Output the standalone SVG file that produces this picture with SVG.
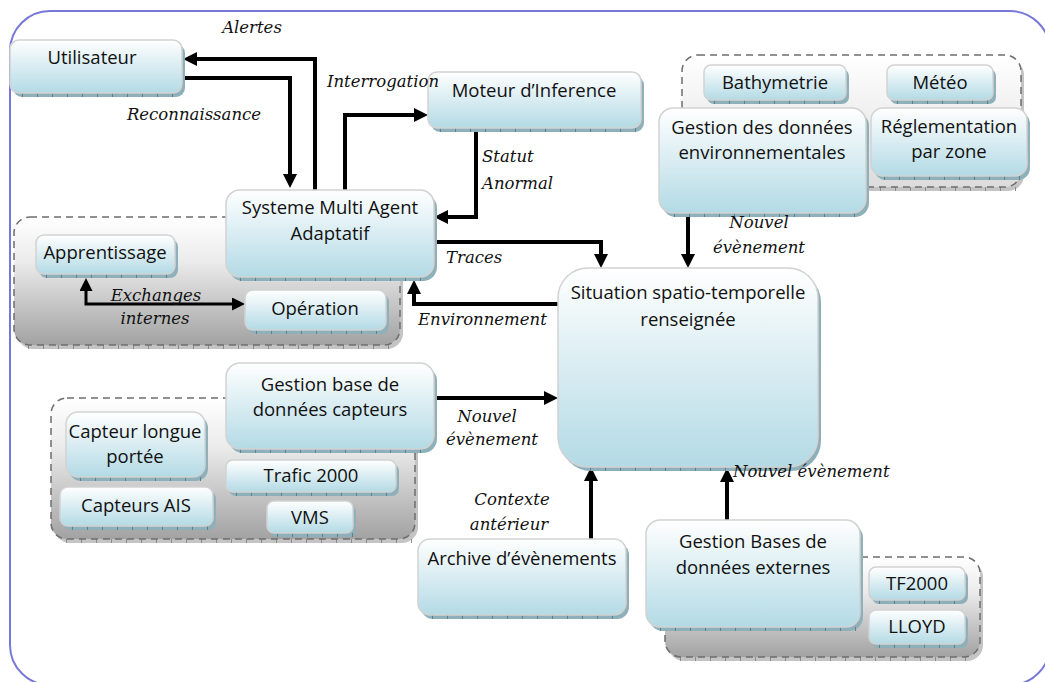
<svg xmlns="http://www.w3.org/2000/svg" width="1045" height="682" viewBox="0 0 1045 682">
<defs>
<linearGradient id="gBox" x1="0" y1="0" x2="0" y2="1">
<stop offset="0" stop-color="#ffffff"/>
<stop offset="1" stop-color="#b3dae5"/>
</linearGradient>
<linearGradient id="gGrp" x1="0" y1="0" x2="0" y2="1">
<stop offset="0" stop-color="#ffffff"/>
<stop offset="0.35" stop-color="#ebebeb"/>
<stop offset="1" stop-color="#a2a2a2"/>
</linearGradient>
<linearGradient id="gGrpL" x1="0" y1="0" x2="0" y2="1">
<stop offset="0" stop-color="#ffffff"/>
<stop offset="1" stop-color="#dcdcdc"/>
</linearGradient>
<marker id="ah" markerUnits="userSpaceOnUse" markerWidth="14" markerHeight="14" refX="0" refY="7" orient="auto-start-reverse">
<path d="M0,0 L14,7 L0,14 z" fill="#000"/>
</marker>
<marker id="ahs" markerUnits="userSpaceOnUse" markerWidth="13" markerHeight="13" refX="0" refY="6.5" orient="auto-start-reverse">
<path d="M0,0 L13,6.5 L0,13 z" fill="#000"/>
</marker>
</defs>
<style>
.bx{fill:url(#gBox);stroke:#d2d2d2;stroke-width:1.5}
.sh{fill:#8eb0ba}
.tk{stroke:#5f7f89;stroke-width:4;stroke-dasharray:1 14;fill:none}
.grp{fill:url(#gGrp);stroke:#6e6e6e;stroke-width:1.5;stroke-dasharray:7 5}
.grpL{fill:url(#gGrpL);stroke:#6e6e6e;stroke-width:1.5;stroke-dasharray:7 5}
.gsh{fill:#c4c4c4}
.gtk{stroke:#8a8a8a;stroke-width:4;stroke-dasharray:1 14;fill:none}
.t{font-family:"Open Sans","Liberation Sans",sans-serif;font-size:18.5px;fill:#111;text-anchor:middle}
.l{font-family:"DejaVu Serif","Liberation Serif",serif;font-style:italic;font-size:16.5px;fill:#111}
.m{text-anchor:middle}
.c{fill:none;stroke:#000;stroke-width:4;stroke-linejoin:miter}
.cs{fill:none;stroke:#000;stroke-width:3}
</style>
<rect x="0" y="0" width="1045" height="682" fill="#fff"/>
<rect x="10" y="11" width="1040" height="674" rx="40" fill="#fff" stroke="#7878d8" stroke-width="2"/>

<!-- groups -->
<g id="grp-agents">
<rect class="gsh" x="17" y="221" width="386" height="128" rx="16"/>
<line class="gtk" x1="28" y1="347" x2="396" y2="347"/>
<rect class="grp" x="14" y="217" width="386" height="128" rx="16"/>
</g>
<g id="grp-env">
<rect class="gsh" x="685" y="59" width="339" height="132" rx="16"/>
<line class="gtk" x1="700" y1="189" x2="1018" y2="189"/>
<rect class="grpL" x="682" y="55" width="339" height="132" rx="16"/>
</g>
<g id="grp-capteurs">
<rect class="gsh" x="54" y="402" width="364" height="141" rx="16"/>
<line class="gtk" x1="66" y1="541" x2="412" y2="541"/>
<rect class="grp" x="51" y="398" width="364" height="141" rx="16"/>
</g>
<g id="grp-ext">
<rect class="gsh" x="668" y="561" width="315" height="100" rx="16"/>
<line class="gtk" x1="680" y1="659" x2="978" y2="659"/>
<rect class="grp" x="665" y="557" width="315" height="100" rx="16"/>
</g>

<!-- connectors -->
<g id="connectors">
<path class="c" d="M315,190 V59 H197" marker-end="url(#ah)"/>
<path class="c" d="M182,78 H290 V174" marker-end="url(#ah)"/>
<path class="c" d="M345,190 V115 H414" marker-end="url(#ah)"/>
<path class="c" d="M476,128 V217 H448" marker-end="url(#ah)"/>
<path class="c" d="M434,242 H601 V254" marker-end="url(#ah)"/>
<path class="c" d="M558,304 H414 V294" marker-end="url(#ah)"/>
<path class="c" d="M688,213 V254" marker-end="url(#ah)"/>
<path class="c" d="M434,398 H544" marker-end="url(#ah)"/>
<path class="c" d="M591,539 V481" marker-end="url(#ah)"/>
<path class="c" d="M727,520 V482" marker-end="url(#ah)"/>
<path class="cs" d="M86,291 V304 H232" marker-start="url(#ahs)" marker-end="url(#ahs)"/>
</g>

<!-- nodes -->
<g id="utilisateur">
<rect class="sh" x="13" y="44" width="172" height="53" rx="9"/>
<line class="tk" x1="22" y1="95" x2="180" y2="95"/>
<rect class="bx" x="10" y="40" width="172" height="53" rx="9"/>
<text class="t" x="92" y="64">Utilisateur</text>
</g>
<g id="moteur">
<rect class="sh" x="431" y="76" width="213" height="56" rx="9"/>
<line class="tk" x1="440" y1="130" x2="640" y2="130"/>
<rect class="bx" x="428" y="72" width="213" height="56" rx="9"/>
<text class="t" x="534" y="97">Moteur d’Inference</text>
</g>
<g id="sma">
<rect class="sh" x="229" y="194" width="208" height="87" rx="14"/>
<line class="tk" x1="240" y1="279" x2="432" y2="279"/>
<rect class="bx" x="226" y="190" width="208" height="87" rx="14"/>
<text class="t" x="330" y="214">Systeme Multi Agent</text>
<text class="t" x="330" y="240">Adaptatif</text>
</g>
<g id="apprentissage">
<rect class="sh" x="39" y="239" width="139" height="39" rx="8"/>
<line class="tk" x1="46" y1="276" x2="174" y2="276"/>
<rect class="bx" x="36" y="235" width="139" height="39" rx="8"/>
<text class="t" x="105" y="259">Apprentissage</text>
</g>
<g id="operation">
<rect class="sh" x="248" y="294" width="141" height="40" rx="8"/>
<line class="tk" x1="256" y1="332" x2="386" y2="332"/>
<rect class="bx" x="245" y="290" width="141" height="40" rx="8"/>
<text class="t" x="315" y="315">Opération</text>
</g>
<g id="bathymetrie">
<rect class="sh" x="707" y="69" width="142" height="35" rx="7"/>
<line class="tk" x1="714" y1="102" x2="846" y2="102"/>
<rect class="bx" x="704" y="65" width="142" height="35" rx="7"/>
<text class="t" x="775" y="89">Bathymetrie</text>
</g>
<g id="meteo">
<rect class="sh" x="890" y="69" width="106" height="35" rx="7"/>
<line class="tk" x1="897" y1="102" x2="993" y2="102"/>
<rect class="bx" x="887" y="65" width="106" height="35" rx="7"/>
<text class="t" x="940" y="89">Météo</text>
</g>
<g id="gestion-env">
<rect class="sh" x="662" y="112" width="207" height="105" rx="14"/>
<line class="tk" x1="674" y1="215" x2="864" y2="215"/>
<rect class="bx" x="659" y="108" width="207" height="105" rx="14"/>
<text class="t" x="762" y="134">Gestion des données</text>
<text class="t" x="762" y="159">environnementales</text>
</g>
<g id="reglementation">
<rect class="sh" x="874" y="112" width="156" height="68" rx="12"/>
<line class="tk" x1="884" y1="178" x2="1026" y2="178"/>
<rect class="bx" x="871" y="108" width="156" height="68" rx="12"/>
<text class="t" x="949" y="133">Réglementation</text>
<text class="t" x="949" y="158">par zone</text>
</g>
<g id="situation">
<rect class="sh" x="561" y="272" width="260" height="199" rx="30"/>
<line class="tk" x1="590" y1="469" x2="800" y2="469"/>
<rect class="bx" x="558" y="268" width="260" height="199" rx="30"/>
<text class="t" x="688" y="299">Situation spatio-temporelle</text>
<text class="t" x="688" y="326">renseignée</text>
</g>
<g id="gestion-capteurs">
<rect class="sh" x="229" y="367" width="208" height="86" rx="14"/>
<line class="tk" x1="240" y1="451" x2="432" y2="451"/>
<rect class="bx" x="226" y="363" width="208" height="86" rx="14"/>
<text class="t" x="330" y="391">Gestion base de</text>
<text class="t" x="330" y="416">données capteurs</text>
</g>
<g id="capteur-longue">
<rect class="sh" x="69" y="416" width="139" height="65" rx="12"/>
<line class="tk" x1="80" y1="479" x2="204" y2="479"/>
<rect class="bx" x="66" y="412" width="139" height="65" rx="12"/>
<text class="t" x="135" y="438">Capteur longue</text>
<text class="t" x="135" y="463">portée</text>
</g>
<g id="capteurs-ais">
<rect class="sh" x="63" y="491" width="153" height="39" rx="8"/>
<line class="tk" x1="72" y1="528" x2="212" y2="528"/>
<rect class="bx" x="60" y="487" width="153" height="39" rx="8"/>
<text class="t" x="136" y="512">Capteurs AIS</text>
</g>
<g id="trafic">
<rect class="sh" x="229" y="464" width="170" height="32" rx="7"/>
<line class="tk" x1="236" y1="494" x2="396" y2="494"/>
<rect class="bx" x="226" y="460" width="170" height="32" rx="7"/>
<text class="t" x="311" y="482">Trafic 2000</text>
</g>
<g id="vms">
<rect class="sh" x="270" y="505" width="86" height="32" rx="7"/>
<line class="tk" x1="277" y1="535" x2="353" y2="535"/>
<rect class="bx" x="267" y="501" width="86" height="32" rx="7"/>
<text class="t" x="310" y="524">VMS</text>
</g>
<g id="archive">
<rect class="sh" x="421" y="543" width="208" height="76" rx="12"/>
<line class="tk" x1="432" y1="617" x2="626" y2="617"/>
<rect class="bx" x="418" y="539" width="208" height="76" rx="12"/>
<text class="t" x="522" y="565">Archive d’évènements</text>
</g>
<g id="gestion-ext">
<rect class="sh" x="649" y="524" width="214" height="107" rx="14"/>
<line class="tk" x1="660" y1="629" x2="858" y2="629"/>
<rect class="bx" x="646" y="520" width="214" height="107" rx="14"/>
<text class="t" x="753" y="548">Gestion Bases de</text>
<text class="t" x="753" y="574">données externes</text>
</g>
<g id="tf2000">
<rect class="sh" x="872" y="571" width="96" height="33" rx="7"/>
<line class="tk" x1="879" y1="602" x2="965" y2="602"/>
<rect class="bx" x="869" y="567" width="96" height="33" rx="7"/>
<text class="t" x="917" y="590">TF2000</text>
</g>
<g id="lloyd">
<rect class="sh" x="872" y="614" width="96" height="34" rx="7"/>
<line class="tk" x1="879" y1="646" x2="965" y2="646"/>
<rect class="bx" x="869" y="610" width="96" height="34" rx="7"/>
<text class="t" x="917" y="633">LLOYD</text>
</g>

<!-- labels -->
<g id="labels">
<text class="l m" x="252" y="33">Alertes</text>
<text class="l m" x="194" y="120">Reconnaissance</text>
<text class="l m" x="383" y="87">Interrogation</text>
<text class="l" x="482" y="162">Statut</text>
<text class="l" x="482" y="189">Anormal</text>
<text class="l" x="446" y="263">Traces</text>
<text class="l" x="418" y="325">Environnement</text>
<text class="l m" x="156" y="301">Exchanges</text>
<text class="l m" x="155" y="324">internes</text>
<text class="l m" x="759" y="228">Nouvel</text>
<text class="l m" x="759" y="253">évènement</text>
<text class="l m" x="487" y="422">Nouvel</text>
<text class="l m" x="492" y="445">évènement</text>
<text class="l m" x="512" y="505">Contexte</text>
<text class="l m" x="509" y="530">antérieur</text>
<text class="l" x="733" y="477">Nouvel évènement</text>
</g>
</svg>
